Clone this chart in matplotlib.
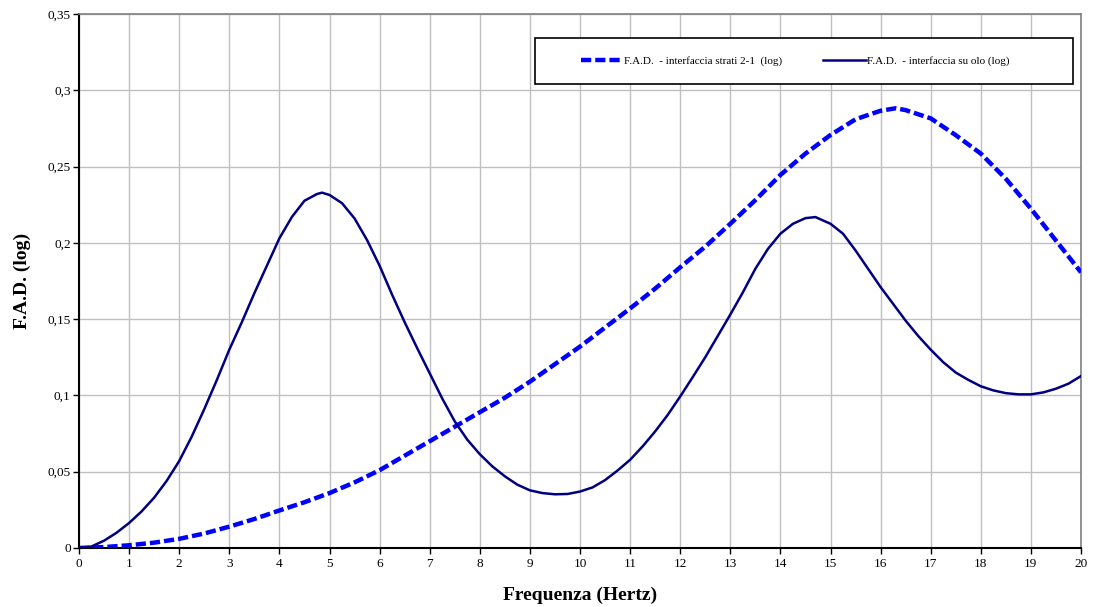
import matplotlib
matplotlib.use("Agg")
import matplotlib.pyplot as plt
from matplotlib.ticker import FuncFormatter, MultipleLocator
from matplotlib.patches import Rectangle

# Data
freq_suolo = [0, 0.25, 0.5, 0.75, 1, 1.25, 1.5, 1.75, 2, 2.25, 2.5, 2.75, 3, 3.25, 3.5, 3.75, 4, 4.25, 4.5, 4.75, 4.85,
              5, 5.25, 5.5, 5.75, 6, 6.25, 6.5, 6.75, 7, 7.25, 7.5, 7.75, 8, 8.25, 8.5, 8.75, 9, 9.25, 9.5, 9.75, 10,
              10.25, 10.5, 10.75, 11, 11.25, 11.5, 11.75, 12, 12.25, 12.5, 12.75, 13, 13.25, 13.5, 13.75, 14, 14.25,
              14.5, 14.7, 15, 15.25, 15.5, 15.75, 16, 16.25, 16.5, 16.75, 17, 17.25, 17.5, 17.75, 18, 18.25, 18.5,
              18.75, 19, 19.25, 19.5, 19.75, 20]
fad_suolo = [0, 0.001, 0.0048, 0.010, 0.0164, 0.024, 0.033, 0.044, 0.057, 0.073, 0.091, 0.110, 0.130, 0.148, 0.167,
             0.185, 0.203, 0.217, 0.2276, 0.232, 0.2329, 0.2314, 0.226, 0.216, 0.2018, 0.185, 0.166, 0.148, 0.131,
             0.1145, 0.098, 0.083, 0.071, 0.0615, 0.0535, 0.047, 0.0415, 0.0378, 0.036, 0.0352, 0.0354, 0.037, 0.0397,
             0.0445, 0.0508, 0.0578, 0.0666, 0.0764, 0.0872, 0.0993, 0.112, 0.125, 0.139, 0.153, 0.1675, 0.183, 0.196,
             0.206, 0.2125, 0.2162, 0.2169, 0.2125, 0.206, 0.195, 0.183, 0.171, 0.160, 0.149, 0.139, 0.130, 0.1218,
             0.115, 0.1102, 0.106, 0.1033, 0.1015, 0.1007, 0.1007, 0.102, 0.1044, 0.1077, 0.1127]

freq_strati = [0, 0.5, 1, 1.5, 2, 2.5, 3, 3.5, 4, 4.5, 5, 5.5, 6, 6.5, 7, 7.5, 8, 8.5, 9, 9.5, 10, 10.5, 11, 11.5, 12,
               12.5, 13, 13.5, 14, 14.5, 15, 15.5, 16, 16.3, 16.5, 17, 17.5, 18, 18.5, 19, 19.5, 20]
fad_strati = [0, 0.0006, 0.0018, 0.0035, 0.006, 0.0095, 0.014, 0.019, 0.0246, 0.030, 0.036, 0.043, 0.051, 0.0605, 0.070,
              0.0795, 0.089, 0.0985, 0.109, 0.1205, 0.132, 0.1445, 0.157, 0.170, 0.184, 0.1975, 0.2125, 0.228, 0.2445,
              0.2585, 0.2707, 0.281, 0.2866, 0.2882, 0.287, 0.2816, 0.2706, 0.2585, 0.242, 0.2224, 0.2015, 0.1807]

label_strati = "F.A.D.  - interfaccia strati 2-1  (log)"
label_suolo = "F.A.D.  - interfaccia su olo (log)"

plt.rcParams['font.family'] = ['Liberation Serif', 'DejaVu Serif']

fig = plt.figure(figsize=(10.93, 6.07), dpi=100)
ax = fig.add_axes([79/1093, 59/607, 1002/1093, 534/607])

ax.plot(freq_strati, fad_strati, color='#0000FF', lw=3.2, dashes=(2.3, 0.9), label=label_strati, zorder=3)
ax.plot(freq_suolo, fad_suolo, color='#000080', lw=1.8, label=label_suolo, zorder=3)

ax.set_xlim(0, 20)
ax.set_ylim(0, 0.35)
ax.xaxis.set_major_locator(MultipleLocator(1))
ax.yaxis.set_major_locator(MultipleLocator(0.05))

def yfmt(v, pos):
    if abs(v) < 1e-9:
        return "0"
    s = ("%.2f" % v).rstrip('0')
    return s.replace('.', ',')

ax.yaxis.set_major_formatter(FuncFormatter(yfmt))
ax.grid(True, color='#c0c0c0', lw=1)
ax.set_axisbelow(True)
ax.tick_params(axis='both', direction='out', length=4, width=1, labelsize=9.5, color='black')
ax.tick_params(axis='x', pad=3)
ax.tick_params(axis='y', pad=2)

for side in ['left', 'bottom']:
    ax.spines[side].set_color('black')
    ax.spines[side].set_linewidth(1.5)
for side in ['top', 'right']:
    ax.spines[side].set_color('#808080')
    ax.spines[side].set_linewidth(1.2)

ax.set_xlabel("Frequenza (Hertz)", fontsize=14, fontweight='bold', labelpad=12)
ax.set_ylabel("F.A.D. (log)", fontsize=14, fontweight='bold', labelpad=12)

# legend frame
x0, x1 = (535 - 79) / 1002, (1073 - 79) / 1002
y0, y1 = (548 - 84) / 534, (548 - 38) / 534
ax.add_patch(Rectangle((x0, y0), x1 - x0, y1 - y0, transform=ax.transAxes, facecolor='white',
                       edgecolor='black', lw=1.2, zorder=4))
leg = ax.legend(loc='center', bbox_to_anchor=(x0 + (x1 - x0) / 2 - 0.009, y0 + (y1 - y0) / 2), ncol=2,
                fontsize=8, frameon=False, borderaxespad=0, borderpad=0, handlelength=3.8,
                handletextpad=0.1, columnspacing=3.7)
leg.set_zorder(5)

fig.savefig("out.png", dpi=100)
